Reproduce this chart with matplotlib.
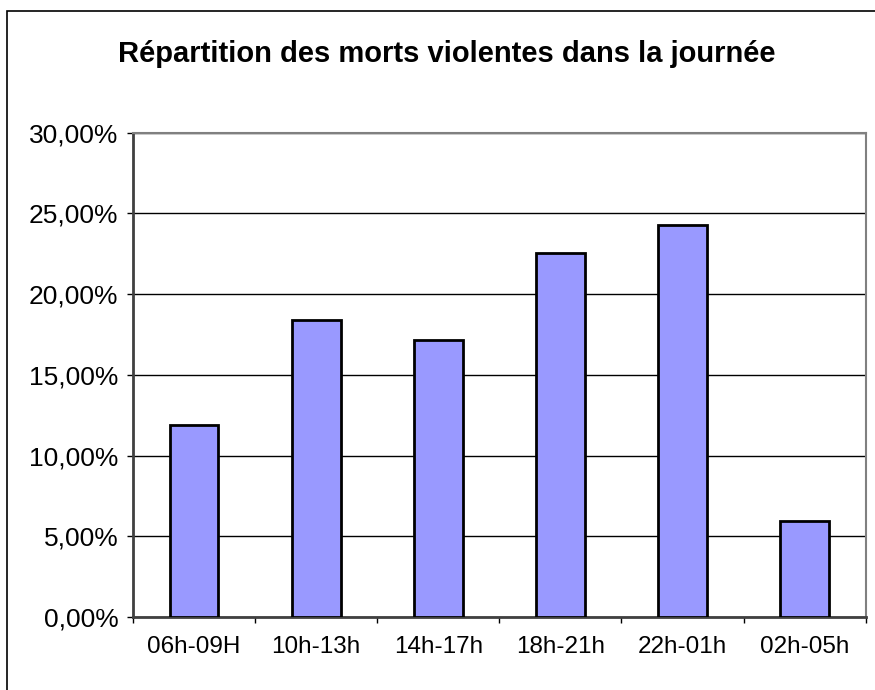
import numpy as np
import matplotlib.pyplot as plt
from matplotlib.patches import Rectangle

plt.rcParams['font.family'] = ['Liberation Sans', 'DejaVu Sans']

# donnees
categories = ['06h-09H', '10h-13h', '14h-17h', '18h-21h', '22h-01h', '02h-05h']
values = [11.88, 18.38, 17.18, 22.53, 24.29, 5.93]
yticks = [0, 5, 10, 15, 20, 25, 30]
ytick_labels = ['0,00%', '5,00%', '10,00%', '15,00%', '20,00%', '25,00%', '30,00%']

fig = plt.figure(figsize=(8.75, 6.9), dpi=100)
ax = fig.add_axes([0.152, 0.1058, 0.8374, 0.7019])

x = np.arange(len(categories))
ax.bar(x, values, width=0.4, color='#9999FF', edgecolor='black', linewidth=2, zorder=3)

ax.set_xlim(-0.5, len(categories) - 0.5)
ax.set_ylim(0, 30)
ax.set_yticks(yticks)
ax.set_yticklabels(ytick_labels, fontsize=19)
ax.set_xticks(x)
ax.set_xticklabels(categories, fontsize=17.5)
ax.set_xticks(np.arange(len(categories) + 1) - 0.5, minor=True)
ax.tick_params(axis='x', which='major', length=0, pad=14)
ax.tick_params(axis='x', which='minor', length=4.5, width=1, direction='out')
ax.tick_params(axis='y', length=4.5, width=1, direction='out', pad=6)

ax.yaxis.grid(True, color='black', linewidth=1)
ax.set_axisbelow(True)
for s in ['top', 'right']:
    ax.spines[s].set_color('#808080')
    ax.spines[s].set_linewidth(1.5)
ax.spines['left'].set_color('#404040')
ax.spines['left'].set_linewidth(2)
ax.spines['bottom'].set_color('#404040')
ax.spines['bottom'].set_linewidth(2)

fig.text(0.511, 0.922, 'Répartition des morts violentes dans la journée',
         ha='center', va='center', fontsize=21, fontweight='bold')

# cadre exterieur du graphique (les bords droit et bas sortent de l'image)
fig.patches.append(Rectangle((7 / 875, -20 / 690), 900 / 875, 699 / 690,
                             transform=fig.transFigure, fill=False,
                             edgecolor='black', linewidth=1.2))

fig.savefig('out.png', dpi=100)
